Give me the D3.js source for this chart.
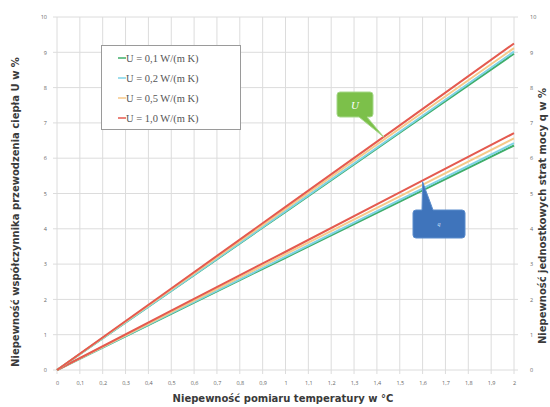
<!DOCTYPE html>
<html><head><meta charset="utf-8">
<script src="https://cdn.jsdelivr.net/npm/d3@7"></script>
<style>body{margin:0;background:#fff}svg{display:block}</style>
</head><body>
<svg id="c" width="550" height="407"></svg>
<script>
const xValues = [0, 0.5, 1, 1.5, 2];
const seriesNames = ["U = 0,1 W/(m K)", "U = 0,2 W/(m K)", "U = 0,5 W/(m K)", "U = 1,0 W/(m K)"];
const seriesColors = ["#3fae6a", "#7fd3e6", "#f6c98a", "#e45a4f"];
const uncU_01 = [0, 2.24, 4.48, 6.72, 8.96];
const uncU_02 = [0, 2.25, 4.50, 6.75, 9.02];
const uncU_05 = [0, 2.28, 4.56, 6.84, 9.12];
const uncU_10 = [0, 2.31, 4.62, 6.93, 9.25];
const uncQ_01 = [0, 1.59, 3.18, 4.77, 6.36];
const uncQ_02 = [0, 1.61, 3.21, 4.82, 6.43];
const uncQ_05 = [0, 1.64, 3.28, 4.92, 6.56];
const uncQ_10 = [0, 1.68, 3.35, 5.03, 6.71];
const xTicks = [0,0.1,0.2,0.3,0.4,0.5,0.6,0.7,0.8,0.9,1,1.1,1.2,1.3,1.4,1.5,1.6,1.7,1.8,1.9,2];
const yTicks = [0,1,2,3,4,5,6,7,8,9,10];
const xTitle = "Niepewność pomiaru temperatury w °C";
const yLeftTitle = "Niepewność współczynnika przewodzenia ciepła U w %";
const yRightTitle = "Niepewność jednostkowych strat mocy q w %";

const svg = d3.select("#c");
const L = 57, R = 514, T = 17, B = 370;
const x = d3.scaleLinear().domain([0, 2]).range([L, R]);
const y = d3.scaleLinear().domain([0, 10]).range([B, T]);
const fmt = d => String(d).replace(".", ",");

// grid
const g = svg.append("g");
g.selectAll("line.v").data(xTicks).join("line")
  .attr("x1", d => x(d)).attr("x2", d => x(d)).attr("y1", T).attr("y2", B + 4)
  .attr("stroke", "#dcdcdc").attr("stroke-width", 1);
g.selectAll("line.h").data(yTicks).join("line")
  .attr("x1", L - 4).attr("x2", R + 4).attr("y1", d => y(d)).attr("y2", d => y(d))
  .attr("stroke", "#dcdcdc").attr("stroke-width", 1);

// axes labels
const axL = svg.append("g").attr("transform", `translate(${L - 4},0)`)
  .call(d3.axisLeft(y).tickValues(yTicks).tickSize(0).tickPadding(6).tickFormat(fmt));
const axR = svg.append("g").attr("transform", `translate(${R + 4},0)`)
  .call(d3.axisRight(y).tickValues(yTicks).tickSize(0).tickPadding(12).tickFormat(fmt));
const axB = svg.append("g").attr("transform", `translate(0,${B + 4})`)
  .call(d3.axisBottom(x).tickValues(xTicks).tickSize(0).tickPadding(7).tickFormat(fmt));
[axL, axR, axB].forEach(a => {
  a.select(".domain").remove();
  a.selectAll("text").attr("font-family", "Open Sans, sans-serif").attr("font-size", 5.5).attr("fill", "#666");
});

// lines
const line = d3.line().x((d, i) => x(xValues[i])).y(d => y(d));
const qSeries = [uncQ_01, uncQ_02, uncQ_05, uncQ_10];
const uSeries = [uncU_01, uncU_02, uncU_05, uncU_10];
[qSeries, uSeries].forEach(grp => {
  grp.forEach((s, i) => {
    svg.append("path").datum(s).attr("d", line)
      .attr("fill", "none").attr("stroke", seriesColors[i]).attr("stroke-width", 2);
  });
});

// U callout: bottom edge has pointer
(function(){
  const bx = 337, by = 92, bw = 36, bh = 25;
  const tip = [x(1.43), y(6.6)];
  const p = `M${bx+3},${by} H${bx+bw-3} Q${bx+bw},${by} ${bx+bw},${by+3} V${by+bh-3} Q${bx+bw},${by+bh} ${bx+bw-3},${by+bh}`
    + ` H${bx+30} L${tip[0]},${tip[1]} L${bx+22},${by+bh} H${bx+3} Q${bx},${by+bh} ${bx},${by+bh-3} V${by+3} Q${bx},${by} ${bx+3},${by} Z`;
  svg.append("path").attr("d", p).attr("fill", "#7cc04a").attr("stroke", "#a6d88a").attr("stroke-width", 1);
  svg.append("text").attr("x", bx + bw / 2).attr("y", by + bh / 2 + 4)
    .attr("text-anchor", "middle").attr("font-family", "Liberation Serif, serif")
    .attr("font-style", "italic").attr("font-size", 11).attr("fill", "#fff").text("U");
})();
// q callout: top edge has pointer
(function(){
  const bx = 413, by = 210, bw = 52, bh = 28;
  const tip = [x(1.6), y(5.33)];
  const p2 = `M${bx+3},${by} H${bx+9} L${tip[0]},${tip[1]} L${bx+20},${by} H${bx+bw-3} Q${bx+bw},${by} ${bx+bw},${by+3} V${by+bh-3} Q${bx+bw},${by+bh} ${bx+bw-3},${by+bh}`
    + ` H${bx+3} Q${bx},${by+bh} ${bx},${by+bh-3} V${by+3} Q${bx},${by} ${bx+3},${by} Z`;
  svg.append("path").attr("d", p2).attr("fill", "#3f74bb").attr("stroke", "#5b8ccc").attr("stroke-width", 1);
  svg.append("text").attr("x", bx + bw / 2).attr("y", by + bh / 2 + 2)
    .attr("text-anchor", "middle").attr("font-family", "Liberation Serif, serif")
    .attr("font-style", "italic").attr("font-size", 6).attr("fill", "#cfe3ff").text("q");
})();

// legend
const lg = svg.append("g");
lg.append("rect").attr("x", 101.5).attr("y", 45.5).attr("width", 139).attr("height", 84)
  .attr("fill", "#fff").attr("stroke", "#9a9a9a").attr("stroke-width", 1);
seriesNames.forEach((n, i) => {
  const yy = 58 + i * 20;
  lg.append("line").attr("x1", 118).attr("x2", 126).attr("y1", yy).attr("y2", yy)
    .attr("stroke", seriesColors[i]).attr("stroke-width", 1.5);
  lg.append("text").attr("x", 126).attr("y", yy + 3.5).attr("font-family", "Liberation Serif, serif")
    .attr("font-size", 10.5).attr("fill", "#555").text(n);
});

// titles
const titleFont = "DejaVu Sans, sans-serif";
svg.append("text").attr("x", 283).attr("y", 402).attr("text-anchor", "middle")
  .attr("font-family", titleFont).attr("font-weight", "bold").attr("font-size", 10)
  .attr("fill", "#3a3a3a").text(xTitle);
svg.append("text").attr("transform", `translate(19,${212}) rotate(-90)`).attr("text-anchor", "middle")
  .attr("font-family", titleFont).attr("font-weight", "bold").attr("font-size", 10)
  .attr("fill", "#3a3a3a").text(yLeftTitle);
svg.append("text").attr("transform", `translate(546,${216}) rotate(-90)`).attr("text-anchor", "middle")
  .attr("font-family", titleFont).attr("font-weight", "bold").attr("font-size", 10)
  .attr("fill", "#3a3a3a").text(yRightTitle);
</script>
</body></html>
